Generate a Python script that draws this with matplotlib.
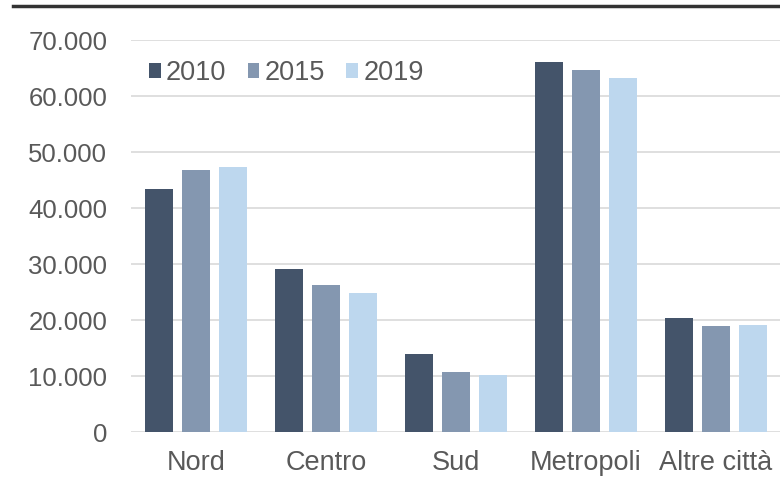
import matplotlib.pyplot as plt
import numpy as np
from matplotlib.lines import Line2D

plt.rcParams['font.family'] = ['Liberation Sans', 'DejaVu Sans']

# dati
categorie = ['Nord', 'Centro', 'Sud', 'Metropoli', 'Altre città']
anni = ['2010', '2015', '2019']
v_2010 = [43400, 29100, 13900, 66100, 20300]
v_2015 = [46700, 26200, 10700, 64600, 18900]
v_2019 = [47400, 24900, 10200, 63300, 19100]
y_ticks = [0, 10000, 20000, 30000, 40000, 50000, 60000, 70000]
y_labels = ['0', '10.000', '20.000', '30.000', '40.000', '50.000', '60.000', '70.000']

colori = ['#44546A', '#8497B0', '#BDD7EE']
testo = '#595959'


def plot_bars():
    fig = plt.figure(figsize=(7.8, 4.78), dpi=100)
    ax = fig.add_axes([131 / 780, 46 / 478, 650 / 780, 392 / 478])

    x = np.arange(len(categorie))
    step = 0.281
    w = 0.215
    for i, (serie, anno) in enumerate(zip([v_2010, v_2015, v_2019], anni)):
        ax.bar(x + (i - 1) * step, serie, width=w, color=colori[i], label=anno, zorder=3)

    ax.set_xlim(-0.5, 4.5)
    ax.set_ylim(0, 70000)
    ax.set_yticks(y_ticks)
    ax.set_yticklabels(y_labels)
    ax.set_xticks(x)
    ax.set_xticklabels(categorie)
    ax.grid(axis='y', color='#D9D9D9', lw=1.2, zorder=0)
    ax.tick_params(axis='both', length=0, colors=testo)
    ax.tick_params(axis='y', pad=17, labelsize=18.5)
    ax.tick_params(axis='x', pad=13, labelsize=19.5)
    for s in ax.spines.values():
        s.set_visible(False)

    ax.legend(loc='upper left', bbox_to_anchor=(149 / 780, 1 - 60 / 478),
              bbox_transform=fig.transFigure, ncol=3, frameon=False,
              fontsize=19.5, labelcolor=testo, handlelength=0.44, handleheight=0.44,
              handletextpad=0.19, columnspacing=0.78, borderaxespad=0, borderpad=0)

    # linea nera in alto
    fig.add_artist(Line2D([13 / 780, 1], [1 - 6 / 478, 1 - 6 / 478],
                          transform=fig.transFigure, color='#333333', lw=2.5))

    plt.savefig('out.png', dpi=100)


if __name__ == "__main__":
    plot_bars()
